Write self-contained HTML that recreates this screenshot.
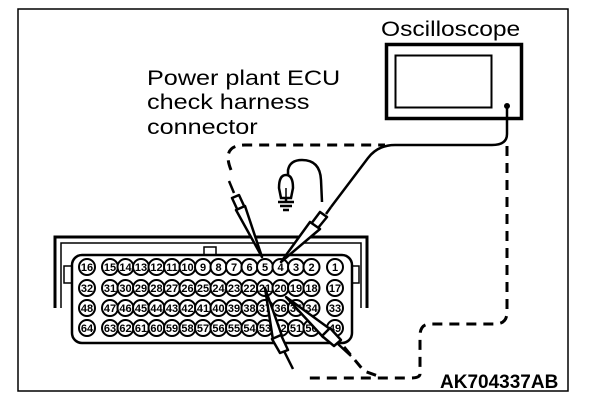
<!DOCTYPE html>
<html><head><style>body{margin:0;background:#fff}svg{display:block}</style></head><body>
<svg width="608" height="404" viewBox="0 0 608 404" xmlns="http://www.w3.org/2000/svg" font-family="Liberation Sans, sans-serif">
<rect x="18" y="9" width="550" height="382" fill="#fff" stroke="#000" stroke-width="1.5"/>
<text x="0" y="36" font-size="21" transform="translate(381 0) scale(1.17 1)">Oscilloscope</text>
<rect x="386.5" y="44.5" width="135" height="74" fill="none" stroke="#000" stroke-width="3.5"/>
<rect x="395.5" y="55.5" width="96" height="52" fill="none" stroke="#000" stroke-width="2"/>
<circle cx="507" cy="106" r="3"/>
<g transform="translate(147 0) scale(1.2 1)"><text font-size="21"><tspan x="0" y="85">Power plant ECU</tspan><tspan x="0" y="109">check harness</tspan><tspan x="0" y="134">connector</tspan></text></g>
<!-- dashed -->
<path d="M231 170 Q221 145 245 145 L385 145" fill="none" stroke="#000" stroke-width="3" stroke-dasharray="10,7"/>
<path d="M507 146 L507 312 Q507 324 495 324 L430 324 Q420 324 420 336 L420 374 Q420 378 410 378 L305 378" fill="none" stroke="#000" stroke-width="3" stroke-dasharray="10,7"/>
<path d="M344 347 L364 371 L378 376" fill="none" stroke="#000" stroke-width="3" stroke-dasharray="10,7"/>
<!-- solid lead -->
<path d="M507 106 L507 134 Q507 145 492 145 L395 145 Q378 145 368 158 L331 207" fill="none" stroke="#000" stroke-width="2.5"/>
<!-- bulb -->
<path d="M288 175 L288 170 Q290 160 302 160 Q320 160 321 180 L322 202" fill="none" stroke="#000" stroke-width="2.5"/>
<path d="M279 188 Q279 175 286 175 Q293 175 293 188 L291 198 L281 198 Z" fill="#fff" stroke="#000" stroke-width="2.5"/>
<path d="M286 188 V198" stroke="#000" stroke-width="1.5"/>
<path d="M278 202 H294 M280 206 H292 M283 210 H289 M286 198 V202" stroke="#000" stroke-width="2.5"/>
<!-- connector -->
<path d="M55 308 V237 H367 V308" fill="none" stroke="#000" stroke-width="3"/>
<path d="M61 308 V243 H361 V308" fill="none" stroke="#000" stroke-width="1.5"/>
<rect x="204" y="247" width="12" height="8" fill="#fff" stroke="#000" stroke-width="1.5"/>
<rect x="64" y="266" width="8" height="17" fill="#fff" stroke="#000" stroke-width="1.5"/>
<rect x="351" y="266" width="8" height="17" fill="#fff" stroke="#000" stroke-width="1.5"/>
<rect x="72" y="255" width="280" height="88" rx="10" fill="#fff" stroke="#000" stroke-width="2.5"/>
<g fill="#fff" stroke="#000" stroke-width="2">
<g id="r1">
<circle cx="87" cy="267" r="8"/><circle cx="110" cy="267" r="8"/><circle cx="125.5" cy="267" r="8"/><circle cx="141" cy="267" r="8"/><circle cx="156.5" cy="267" r="8"/><circle cx="172" cy="267" r="8"/><circle cx="187.5" cy="267" r="8"/><circle cx="203" cy="267" r="8"/><circle cx="218.5" cy="267" r="8"/><circle cx="234" cy="267" r="8"/><circle cx="249.5" cy="267" r="8"/><circle cx="265" cy="267" r="8"/><circle cx="280.5" cy="267" r="8"/><circle cx="296" cy="267" r="8"/><circle cx="311.5" cy="267" r="8"/><circle cx="335" cy="267" r="8"/>
</g>
<use href="#r1" y="21"/><use href="#r1" y="41"/><use href="#r1" y="61"/>
</g>
<g font-size="11" font-weight="bold" text-anchor="middle">
<text y="271"><tspan x="87">16</tspan><tspan x="110">15</tspan><tspan x="125.5">14</tspan><tspan x="141">13</tspan><tspan x="156.5">12</tspan><tspan x="172">11</tspan><tspan x="187.5">10</tspan><tspan x="203">9</tspan><tspan x="218.5">8</tspan><tspan x="234">7</tspan><tspan x="249.5">6</tspan><tspan x="265">5</tspan><tspan x="280.5">4</tspan><tspan x="296">3</tspan><tspan x="311.5">2</tspan><tspan x="335">1</tspan></text>
<text y="292"><tspan x="87">32</tspan><tspan x="110">31</tspan><tspan x="125.5">30</tspan><tspan x="141">29</tspan><tspan x="156.5">28</tspan><tspan x="172">27</tspan><tspan x="187.5">26</tspan><tspan x="203">25</tspan><tspan x="218.5">24</tspan><tspan x="234">23</tspan><tspan x="249.5">22</tspan><tspan x="265">21</tspan><tspan x="280.5">20</tspan><tspan x="296">19</tspan><tspan x="311.5">18</tspan><tspan x="335">17</tspan></text>
<text y="312"><tspan x="87">48</tspan><tspan x="110">47</tspan><tspan x="125.5">46</tspan><tspan x="141">45</tspan><tspan x="156.5">44</tspan><tspan x="172">43</tspan><tspan x="187.5">42</tspan><tspan x="203">41</tspan><tspan x="218.5">40</tspan><tspan x="234">39</tspan><tspan x="249.5">38</tspan><tspan x="265">37</tspan><tspan x="280.5">36</tspan><tspan x="296">35</tspan><tspan x="311.5">34</tspan><tspan x="335">33</tspan></text>
<text y="332"><tspan x="87">64</tspan><tspan x="110">63</tspan><tspan x="125.5">62</tspan><tspan x="141">61</tspan><tspan x="156.5">60</tspan><tspan x="172">59</tspan><tspan x="187.5">58</tspan><tspan x="203">57</tspan><tspan x="218.5">56</tspan><tspan x="234">55</tspan><tspan x="249.5">54</tspan><tspan x="265">53</tspan><tspan x="280.5">52</tspan><tspan x="296">51</tspan><tspan x="311.5">50</tspan><tspan x="335">49</tspan></text>
</g>
<!-- probes -->
<g fill="#fff" stroke="#000" stroke-width="2.5" stroke-linejoin="round">
<path d="M229 181 L234 193"/>
<path d="M232 198 L239 195 L245 208 L238 211 Z"/>
<path d="M236 210 L245 206 L262 257 Z"/>
<path d="M331 207 L326 214"/>
<path d="M320 212 L327 217 L318 228 L311 224 Z"/>
<path d="M310 222 L320 229 L281 262 Z"/>
<path d="M265 288 L282 336 L273 340 Z"/>
<path d="M272 339 L281 335 L288 350 L280 353 Z"/>
<path d="M284 351 L293 369"/>
<path d="M286 297 L330 329 L323 337 Z"/>
<path d="M322 336 L330 328 L341 340 L334 346 Z"/>
<path d="M338 344 L351 356"/>
</g>
<text x="440" y="388" font-size="19" font-weight="bold">AK704337AB</text>
</svg>
</body></html>
